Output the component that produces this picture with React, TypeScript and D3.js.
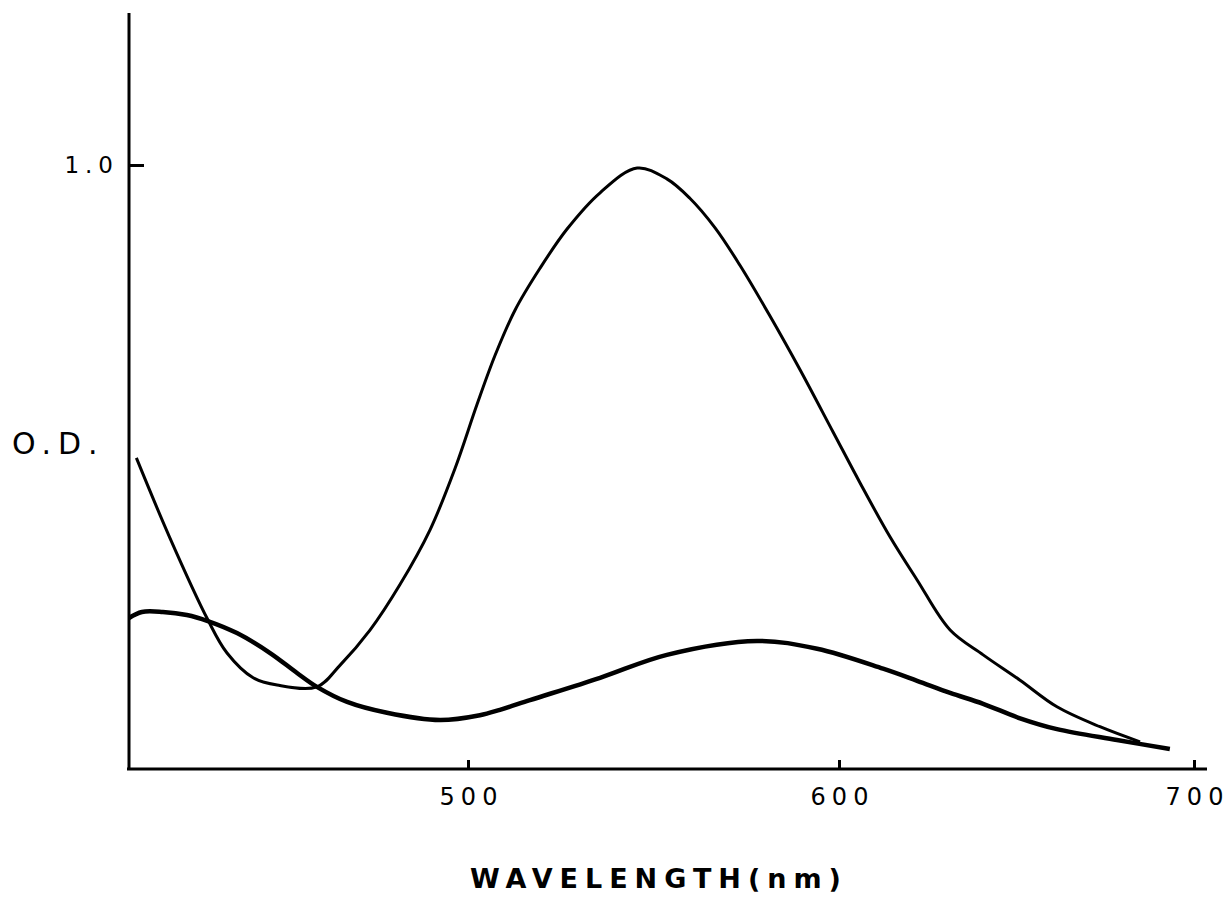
import React, { useEffect, useRef } from "react";
import * as d3 from "d3";

// wavelength (nm) / optical density
const peakWavelength = [410, 419, 429.4, 434.6, 441.7, 448.2, 459, 465.3, 473.4, 481.5, 489.7, 496.5, 502.4, 507.3, 512.7, 519.4, 526.7, 535.6, 545.6, 553.6, 559.8, 566.6, 573.3, 581.4, 589.5, 598.4, 605.9, 614.4, 622, 631.3, 640.6, 651, 661.4, 673.5, 684.8];
const peakOD = [0.515, 0.384, 0.247, 0.192, 0.151, 0.139, 0.136, 0.172, 0.23, 0.305, 0.396, 0.498, 0.603, 0.685, 0.76, 0.829, 0.894, 0.954, 0.995, 0.977, 0.945, 0.896, 0.834, 0.75, 0.661, 0.558, 0.474, 0.384, 0.313, 0.23, 0.189, 0.147, 0.103, 0.07, 0.045];

const lowWavelength = [408, 411.5, 417.2, 423.7, 429.4, 437.3, 446.3, 453.6, 459, 467.2, 478, 492.4, 503.2, 508.6, 516.7, 535.6, 553.6, 577.9, 594.1, 612.4, 622, 631.3, 640.6, 651, 661.4, 678.3, 693.2];
const lowOD = [0.25, 0.26, 0.26, 0.255, 0.245, 0.225, 0.192, 0.159, 0.136, 0.111, 0.093, 0.081, 0.089, 0.098, 0.114, 0.151, 0.189, 0.212, 0.199, 0.166, 0.146, 0.126, 0.108, 0.084, 0.066, 0.048, 0.033];

const xTicks = [500, 600, 700];
const yTicks = [1.0];

const FONT = "'DejaVu Sans', sans-serif";

export default function App() {
  const svgRef = useRef<SVGSVGElement | null>(null);

  useEffect(() => {
    const svg = d3.select(svgRef.current);
    svg.selectAll("*").remove();

    // hand-drawn axis: tick spacing is not quite even, so piecewise scale
    const x = d3.scaleLinear().domain([408, 500, 600, 700]).range([129, 468, 839, 1194]);
    const y = d3.scaleLinear().domain([0, 1.0]).range([769, 165]);

    const line = d3
      .line<[number, number]>()
      .x((d) => x(d[0]))
      .y((d) => y(d[1]))
      .curve(d3.curveCatmullRom.alpha(0.5));

    // x axis
    const gx = svg.append("g").attr("transform", `translate(0,${y(0)})`);
    gx.call(
      d3.axisBottom(x).tickValues(xTicks).tickSize(-9).tickSizeOuter(0).tickPadding(19).tickFormat(d3.format("d"))
    );
    gx.select(".domain").attr("d", `M127,0H1207`).attr("stroke-width", 3);
    gx.selectAll(".tick line").attr("stroke-width", 3);
    gx.selectAll(".tick text")
      .attr("font-family", FONT)
      .attr("font-size", 24)
      .attr("letter-spacing", 6)
      .attr("dx", 3)
      .attr("fill", "#000");

    // y axis
    const gy = svg.append("g").attr("transform", `translate(129,0)`);
    gy.call(
      d3.axisLeft(y).tickValues(yTicks).tickSize(-15).tickSizeOuter(0).tickPadding(10).tickFormat(d3.format(".1f"))
    );
    gy.select(".domain").attr("d", `M0,13V769`).attr("stroke-width", 3);
    gy.selectAll(".tick line").attr("stroke-width", 3);
    gy.selectAll(".tick text")
      .attr("font-family", FONT)
      .attr("font-size", 23)
      .attr("letter-spacing", 6)
      .attr("fill", "#000");

    // curves
    svg
      .append("path")
      .datum(d3.zip(peakWavelength, peakOD) as [number, number][])
      .attr("fill", "none")
      .attr("stroke", "#000")
      .attr("stroke-width", 3)
      .attr("d", line);

    svg
      .append("path")
      .datum(d3.zip(lowWavelength, lowOD) as [number, number][])
      .attr("fill", "none")
      .attr("stroke", "#000")
      .attr("stroke-width", 4.5)
      .attr("d", line);

    // labels
    svg
      .append("text")
      .attr("x", 12)
      .attr("y", 454)
      .attr("font-family", FONT)
      .attr("font-size", 30)
      .attr("letter-spacing", 7)
      .text("O.D.");

    svg
      .append("text")
      .attr("x", 470)
      .attr("y", 888)
      .attr("font-family", FONT)
      .attr("font-size", 27)
      .attr("font-weight", "bold")
      .attr("letter-spacing", 7)
      .text("WAVELENGTH(nm)");
  }, []);

  return (
    <svg
      ref={svgRef}
      width={1232}
      height={922}
      style={{ position: "absolute", left: 0, top: 0, background: "#fff" }}
    />
  );
}
